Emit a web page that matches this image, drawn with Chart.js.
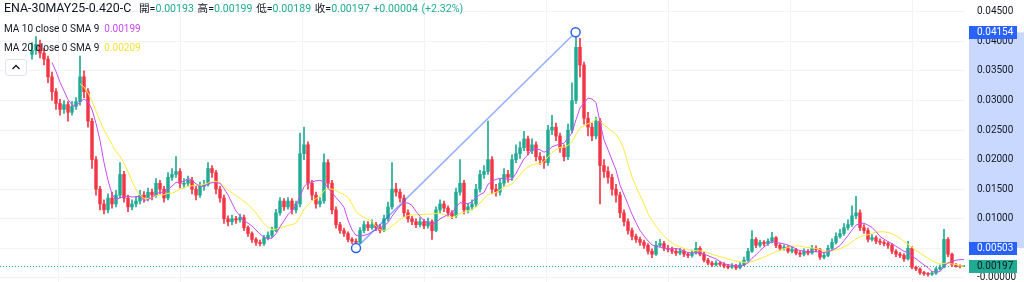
<!DOCTYPE html>
<html>
<head>
<meta charset="utf-8">
<script src="https://cdn.jsdelivr.net/npm/chart.js@4.4.1/dist/chart.umd.min.js"></script>
<style>
  body { margin: 0; background: #fff; }
  #wrap { position: relative; width: 1024px; height: 282px; overflow: hidden;
          font-family: Roboto, "Noto Sans CJK TC", sans-serif; color: #131722; }
  #chart { position: absolute; left: 0; top: 0; }
  .row { position: absolute; white-space: nowrap; font-size: 10px; line-height: 16px; }
  .title { font-size: 12.4px; }
  .ohlc { font-size: 10.6px; word-spacing: 1px; }
  .up { color: #22ab94; }
  .ma10 { color: #c64cf5; }
  .ma20 { color: #f7e03a; }
  #toggle { position: absolute; left: 5px; top: 59px; width: 20px; height: 15px;
            border: 1px solid #e0e3eb; border-radius: 3px; background: #fff; }
</style>
</head>
<body>
<div id="wrap">
  <canvas id="chart" width="1024" height="282"></canvas>
  <div class="row title" style="left:4px; top:0px;">ENA-30MAY25-0.420-C</div>
  <div class="row ohlc" style="left:139px; top:1px;">開=<span class="up">0.00193</span> 高=<span class="up">0.00199</span> 低=<span class="up">0.00189</span> 收=<span class="up">0.00197</span> <span class="up">+0.00004 (+2.32%)</span></div>
  <div class="row" style="left:4px; top:21px;">MA 10 close 0 SMA 9&nbsp; <span class="ma10">0.00199</span></div>
  <div class="row" style="left:4px; top:40px;">MA 20 close 0 SMA 9&nbsp; <span class="ma20">0.00209</span></div>
  <div id="toggle"><svg width="20" height="15"><polyline points="6.5,9 10,5.5 13.5,9" fill="none" stroke="#131722" stroke-width="1.3"/></svg></div>
</div>
<script>
const firstOpen = 0.0378;
const closes = [
  0.0385,0.0395,0.0380,0.0370,0.0340,0.0315,0.0295,0.0285,0.0293,0.0280,
  0.0290,0.0298,0.0340,0.0315,0.0265,0.0200,0.0150,0.0125,0.0115,0.0135,
  0.0125,0.0140,0.0175,0.0135,0.0120,0.0125,0.0130,0.0140,0.0135,0.0145,
  0.0140,0.0160,0.0150,0.0135,0.0170,0.0175,0.0180,0.0160,0.0160,0.0165,
  0.0150,0.0140,0.0155,0.0158,0.0185,0.0178,0.0150,0.0135,0.0100,0.0095,
  0.0100,0.0098,0.0102,0.0085,0.0075,0.0065,0.0060,0.0058,0.0068,0.0072,
  0.0080,0.0110,0.0130,0.0120,0.0130,0.0115,0.0125,0.0210,0.0225,0.0160,
  0.0140,0.0125,0.0130,0.0195,0.0160,0.0115,0.0090,0.0080,0.0075,0.0065,
  0.0062,0.0060,0.0080,0.0090,0.0085,0.0090,0.0085,0.0080,0.0100,0.0120,
  0.0150,0.0145,0.0135,0.0110,0.0100,0.0095,0.0090,0.0095,0.0088,0.0095,
  0.0080,0.0115,0.0125,0.0118,0.0110,0.0105,0.0145,0.0160,0.0115,0.0120,
  0.0125,0.0150,0.0175,0.0180,0.0200,0.0150,0.0145,0.0160,0.0175,0.0170,
  0.0200,0.0210,0.0220,0.0235,0.0215,0.0225,0.0205,0.0200,0.0195,0.0250,
  0.0255,0.0240,0.0220,0.0205,0.0250,0.0300,0.0390,0.0360,0.0270,0.0255,
  0.0240,0.0265,0.0190,0.0180,0.0170,0.0150,0.0140,0.0110,0.0095,0.0080,
  0.0070,0.0065,0.0060,0.0055,0.0045,0.0040,0.0055,0.0058,0.0050,0.0048,
  0.0045,0.0042,0.0045,0.0040,0.0038,0.0042,0.0050,0.0040,0.0030,0.0025,
  0.0022,0.0025,0.0023,0.0020,0.0018,0.0020,0.0017,0.0022,0.0030,0.0045,
  0.0065,0.0055,0.0060,0.0058,0.0062,0.0068,0.0055,0.0050,0.0052,0.0045,
  0.0048,0.0042,0.0040,0.0045,0.0042,0.0050,0.0048,0.0035,0.0038,0.0050,
  0.0060,0.0070,0.0075,0.0085,0.0090,0.0105,0.0110,0.0085,0.0080,0.0065,
  0.0068,0.0062,0.0060,0.0058,0.0055,0.0045,0.0040,0.0038,0.0032,0.0050,
  0.0018,0.0015,0.0009,0.0007,0.0006,0.0008,0.0015,0.0018,0.0065,0.0040,
  0.0022,0.0020,0.00193,0.00197
];
const highs = [
  0.0398,0.0408,0.0402,0.0388,0.0375,0.0348,0.0320,0.0302,0.0300,0.0298,
  0.0298,0.0305,0.0375,0.0350,0.0320,0.0270,0.0205,0.0155,0.0132,0.0142,
  0.0145,0.0148,0.0195,0.0180,0.0140,0.0132,0.0138,0.0148,0.0146,0.0152,
  0.0150,0.0168,0.0165,0.0155,0.0178,0.0185,0.0205,0.0185,0.0168,0.0172,
  0.0170,0.0155,0.0162,0.0165,0.0195,0.0190,0.0182,0.0155,0.0140,0.0105,
  0.0106,0.0104,0.0108,0.0106,0.0088,0.0078,0.0068,0.0064,0.0072,0.0078,
  0.0086,0.0116,0.0136,0.0134,0.0136,0.0134,0.0130,0.0245,0.0255,0.0230,
  0.0165,0.0145,0.0136,0.0210,0.0200,0.0165,0.0120,0.0094,0.0084,0.0078,
  0.0068,0.0066,0.0085,0.0096,0.0095,0.0098,0.0094,0.0090,0.0106,0.0128,
  0.0195,0.0160,0.0150,0.0140,0.0115,0.0104,0.0100,0.0102,0.0099,0.0101,
  0.0098,0.0120,0.0132,0.0130,0.0122,0.0114,0.0152,0.0200,0.0165,0.0126,
  0.0132,0.0158,0.0182,0.0190,0.0265,0.0205,0.0158,0.0168,0.0185,0.0182,
  0.0208,0.0225,0.0230,0.0248,0.0240,0.0235,0.0230,0.0212,0.0206,0.0258,
  0.0275,0.0262,0.0245,0.0225,0.0260,0.0330,0.0415,0.0405,0.0365,0.0280,
  0.0262,0.0272,0.0270,0.0200,0.0188,0.0175,0.0158,0.0145,0.0115,0.0100,
  0.0084,0.0074,0.0069,0.0064,0.0058,0.0049,0.0062,0.0065,0.0062,0.0055,
  0.0052,0.0049,0.0050,0.0048,0.0043,0.0047,0.0060,0.0053,0.0043,0.0033,
  0.0028,0.0029,0.0028,0.0026,0.0023,0.0024,0.0023,0.0026,0.0035,0.0050,
  0.0080,0.0068,0.0064,0.0063,0.0066,0.0077,0.0070,0.0058,0.0056,0.0054,
  0.0052,0.0050,0.0045,0.0049,0.0048,0.0055,0.0054,0.0050,0.0042,0.0055,
  0.0066,0.0076,0.0082,0.0092,0.0098,0.0122,0.0138,0.0115,0.0090,0.0084,
  0.0073,0.0071,0.0066,0.0063,0.0061,0.0058,0.0048,0.0043,0.0041,0.0062,
  0.0053,0.0020,0.0017,0.0011,0.0009,0.0011,0.0018,0.0022,0.0082,0.0068,
  0.0042,0.0024,0.0022,0.00199
];
const lows = [
  0.0370,0.0378,0.0372,0.0360,0.0330,0.0300,0.0285,0.0275,0.0278,0.0265,
  0.0275,0.0285,0.0292,0.0305,0.0255,0.0185,0.0140,0.0115,0.0108,0.0110,
  0.0118,0.0120,0.0135,0.0128,0.0112,0.0115,0.0120,0.0125,0.0128,0.0130,
  0.0132,0.0136,0.0142,0.0128,0.0132,0.0165,0.0170,0.0152,0.0152,0.0155,
  0.0142,0.0132,0.0136,0.0148,0.0155,0.0170,0.0142,0.0128,0.0092,0.0088,
  0.0090,0.0092,0.0094,0.0080,0.0070,0.0060,0.0055,0.0054,0.0055,0.0064,
  0.0068,0.0078,0.0106,0.0114,0.0116,0.0108,0.0110,0.0120,0.0200,0.0150,
  0.0132,0.0118,0.0120,0.0126,0.0152,0.0108,0.0084,0.0075,0.0070,0.0061,
  0.0058,0.0056,0.0058,0.0076,0.0080,0.0082,0.0080,0.0076,0.0078,0.0096,
  0.0116,0.0138,0.0128,0.0104,0.0094,0.0090,0.0085,0.0086,0.0083,0.0084,
  0.0065,0.0078,0.0110,0.0112,0.0104,0.0100,0.0102,0.0140,0.0108,0.0110,
  0.0115,0.0120,0.0145,0.0168,0.0175,0.0142,0.0138,0.0140,0.0155,0.0162,
  0.0165,0.0195,0.0202,0.0215,0.0208,0.0210,0.0198,0.0192,0.0185,0.0190,
  0.0242,0.0232,0.0212,0.0198,0.0200,0.0245,0.0295,0.0340,0.0260,0.0240,
  0.0232,0.0235,0.0125,0.0170,0.0160,0.0140,0.0128,0.0102,0.0088,0.0074,
  0.0064,0.0060,0.0055,0.0050,0.0040,0.0034,0.0038,0.0052,0.0046,0.0044,
  0.0041,0.0038,0.0039,0.0036,0.0034,0.0035,0.0040,0.0037,0.0027,0.0022,
  0.0019,0.0020,0.0020,0.0017,0.0015,0.0016,0.0014,0.0015,0.0020,0.0028,
  0.0043,0.0051,0.0052,0.0054,0.0055,0.0059,0.0051,0.0046,0.0047,0.0042,
  0.0042,0.0039,0.0036,0.0037,0.0039,0.0040,0.0044,0.0031,0.0032,0.0036,
  0.0048,0.0057,0.0067,0.0072,0.0081,0.0087,0.0100,0.0080,0.0075,0.0061,
  0.0062,0.0058,0.0056,0.0054,0.0050,0.0041,0.0036,0.0034,0.0028,0.0030,
  0.0015,0.0012,0.0006,0.0004,0.0003,0.0004,0.0006,0.0013,0.0017,0.0036,
  0.0019,0.0018,0.0017,0.00189
];
const yTickValues = [0, 0.005, 0.01, 0.015, 0.02, 0.025, 0.03, 0.035, 0.04, 0.045];
const yTickLabels = ['-0.00000', '0.00500', '0.01000', '0.01500', '0.02000', '0.02500', '0.03000', '0.03500', '0.04000', '0.04500'];
const xGridTicks = [6.5, 37, 67.5, 98, 128.5, 159, 189.5, 220];
const trendLine = [{ x: 81, y: 0.00503 }, { x: 135.9, y: 0.04154 }];
const lastPrice = 0.00197;
// the candles above are a coarser sampling than the original (about 1.6 original bars each),
// so the 10 / 20 bar averages span 6 / 13 of these candles
const maPeriods = [6, 13];

const UP = '#22ab94';
const DOWN = '#f23645';

// each candle opens where the previous one closed
const opens = closes.map((c, i) => (i === 0 ? firstOpen : closes[i - 1]));
const candleColors = closes.map((c, i) => (c >= opens[i] ? UP : DOWN));
const bodies = closes.map((c, i) => ({ x: i, y: [Math.min(opens[i], c), Math.max(opens[i], c)] }));
const wicks = closes.map((c, i) => ({ x: i, y: [lows[i], highs[i]] }));

function sma(period) {
  const out = [];
  for (let i = period - 1; i < closes.length; i++) {
    let s = 0;
    for (let k = i - period + 1; k <= i; k++) s += closes[k];
    out.push({ x: i, y: s / period });
  }
  return out;
}

const priceAxis = {
  id: 'priceAxis',
  beforeDatasetsDraw(chart) {
    const { ctx, chartArea, scales: { y } } = chart;
    const yl = Math.round(y.getPixelForValue(lastPrice)) + 0.5;
    ctx.save();
    ctx.strokeStyle = UP;
    ctx.lineWidth = 1;
    ctx.setLineDash([1, 2]);
    ctx.beginPath();
    ctx.moveTo(chartArea.left, yl);
    ctx.lineTo(chartArea.right, yl);
    ctx.stroke();
    ctx.restore();
  },
  afterDraw(chart) {
    const { ctx, chartArea, scales: { y } } = chart;
    const ax = chartArea.right;
    ctx.save();
    // price range of the drawn line, shaded on the scale
    const yTop = y.getPixelForValue(trendLine[1].y);
    const yBot = y.getPixelForValue(trendLine[0].y);
    ctx.fillStyle = 'rgba(41, 98, 255, 0.25)';
    ctx.fillRect(ax + 4, yTop, chart.width - ax - 4, yBot - yTop);

    ctx.font = '10px Roboto';
    ctx.textBaseline = 'middle';
    ctx.fillStyle = '#131722';
    y.ticks.forEach((t, i) => ctx.fillText(yTickLabels[i], ax + 12, y.getPixelForValue(t.value)));

    const tag = (value, bg, fg) => {
      const py = Math.round(y.getPixelForValue(value));
      ctx.fillStyle = bg;
      ctx.fillRect(ax + 4, py - 6, 48, 13);
      ctx.fillStyle = fg;
      ctx.fillText(value.toFixed(5), ax + 12, py + 0.5);
    };
    tag(trendLine[1].y, '#2962ff', '#fff');
    tag(trendLine[0].y, '#2962ff', '#fff');
    tag(lastPrice, UP, '#131722');
    ctx.restore();
  }
};

new Chart(document.getElementById('chart').getContext('2d'), {
  type: 'bar',
  data: {
    datasets: [
      { type: 'line', label: 'trend', data: trendLine, borderColor: 'rgba(41, 98, 255, 0.5)', borderWidth: 1.5,
        pointRadius: 4.5, pointBorderColor: '#2962ff', pointBackgroundColor: '#fff', pointBorderWidth: 1.5, order: 0 },
      { type: 'line', label: 'MA 10', data: sma(maPeriods[0]), borderColor: '#c64cf5', borderWidth: 1, pointRadius: 0, order: 1 },
      { type: 'line', label: 'MA 20', data: sma(maPeriods[1]), borderColor: '#ffeb3b', borderWidth: 1, pointRadius: 0, order: 2 },
      { label: 'body', data: bodies, backgroundColor: candleColors, barThickness: 2.8, minBarLength: 1, grouped: false, order: 3 },
      { label: 'wick', data: wicks, backgroundColor: candleColors, barThickness: 1, grouped: false, order: 4 }
    ]
  },
  options: {
    responsive: false,
    animation: false,
    devicePixelRatio: 1,
    layout: { padding: 0, autoPadding: false },
    plugins: { legend: { display: false }, tooltip: { enabled: false } },
    scales: {
      x: {
        type: 'linear', min: -8, max: 233.25, offset: false,
        ticks: { display: false },
        grid: { color: '#f2f3f6', drawTicks: false, offset: false },
        border: { display: false },
        afterBuildTicks: s => { s.ticks = xGridTicks.map(v => ({ value: v })); }
      },
      y: {
        position: 'right', min: -0.0007, max: 0.047,
        ticks: { display: false },
        grid: { color: '#f2f3f6', drawTicks: false },
        border: { display: false },
        afterBuildTicks: s => { s.ticks = yTickValues.map(v => ({ value: v })); },
        afterFit: s => { s.width = 59; }
      }
    }
  },
  plugins: [priceAxis]
});
</script>
</body>
</html>
